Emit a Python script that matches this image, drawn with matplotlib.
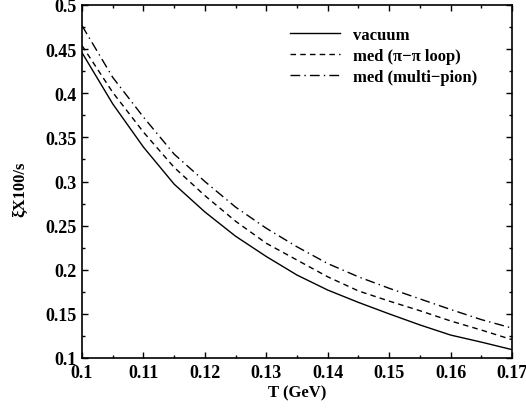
import matplotlib
matplotlib.use("Agg")
import matplotlib.pyplot as plt
from matplotlib.ticker import MultipleLocator

plt.rcParams['font.family'] = ['Liberation Serif', 'DejaVu Serif']
plt.rcParams['font.weight'] = 'bold'

# temperature (GeV)
T = [0.100, 0.105, 0.110, 0.115, 0.120, 0.125, 0.130, 0.135,
     0.140, 0.145, 0.150, 0.155, 0.160, 0.165, 0.170]
# xi x 100 / s
vacuum = [0.446, 0.388, 0.339, 0.297, 0.2655, 0.238, 0.215, 0.194,
          0.177, 0.163, 0.150, 0.1375, 0.126, 0.118, 0.1095]
med_pipi = [0.454, 0.401, 0.356, 0.316, 0.284, 0.255, 0.230, 0.211,
            0.192, 0.176, 0.1645, 0.1536, 0.142, 0.1317, 0.1208]
med_multi = [0.4766, 0.418, 0.373, 0.331, 0.300, 0.271, 0.247, 0.226,
             0.207, 0.192, 0.179, 0.167, 0.155, 0.1435, 0.1339]

xticks = [0.1, 0.11, 0.12, 0.13, 0.14, 0.15, 0.16, 0.17]
xticklabels = ['0.1', '0.11', '0.12', '0.13', '0.14', '0.15', '0.16', '0.17']
yticks = [0.1, 0.15, 0.2, 0.25, 0.3, 0.35, 0.4, 0.45, 0.5]
yticklabels = ['0.1', '0.15', '0.2', '0.25', '0.3', '0.35', '0.4', '0.45', '0.5']

fig = plt.figure(figsize=(5.26, 4.10), dpi=100)
ax = fig.add_axes([82/526, 51/410, 430/526, 353/410])

ax.plot(T, vacuum, color='black', lw=1.0, ls='-', label='vacuum')
ax.plot(T, med_pipi, color='black', lw=1.0, ls=(0, (4, 3)), label='med (\u03c0\u2212\u03c0 loop)')
ax.plot(T, med_multi, color='black', lw=1.0, ls=(0, (7, 3, 1, 3)), label='med (multi\u2212pion)')

ax.set_xlim(0.1, 0.17)
ax.set_ylim(0.1, 0.5)
ax.set_xticks(xticks)
ax.set_xticklabels(xticklabels)
ax.set_yticks(yticks)
ax.set_yticklabels(yticklabels)
ax.xaxis.set_minor_locator(MultipleLocator(0.005))
ax.yaxis.set_minor_locator(MultipleLocator(0.025))

ax.tick_params(which='both', direction='in', top=True, right=True, labelsize=13, width=1.0)
ax.tick_params(which='major', length=4.5, pad=4)
ax.tick_params(which='minor', length=2.5)
for s in ax.spines.values():
    s.set_linewidth(1.2)

ax.set_xlabel('T (GeV)', fontsize=12, fontweight='bold', labelpad=3)
ax.set_ylabel('\u03beX100/s', fontsize=12, fontweight='bold')
ax.yaxis.set_label_coords(-0.125, 0.48)

ax.legend(loc='upper right', frameon=False, fontsize=12, handlelength=3.0,
          handletextpad=0.8, labelspacing=0.3, bbox_to_anchor=(0.955, 0.98))

fig.savefig('out.png', dpi=100)
